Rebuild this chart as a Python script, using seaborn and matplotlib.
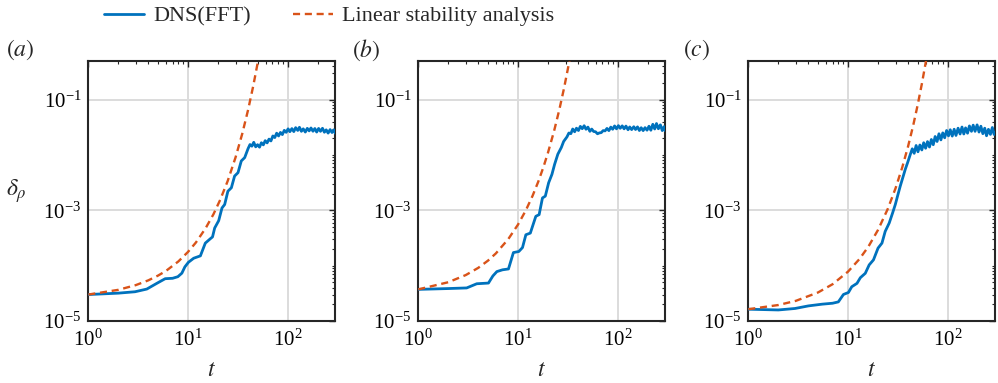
import matplotlib
matplotlib.use("Agg")
import matplotlib.pyplot as plt
import matplotlib.ticker as mticker
import numpy as np
import pandas as pd
import seaborn as sns

# ---- data ----
# panel (a)
t_dns_a = [1.0, 2.0, 2.94, 3.86, 4.86, 5.9, 7.0, 7.9, 8.67, 9.3, 10.1, 11.4, 13.3, 14.9,
           16.7, 17.6, 18.5, 20.3, 21.9, 23.3, 25.1, 27.2, 29.3, 31.7, 34.2, 37.0,
           40, 41.8, 43.7, 45.6, 47.7, 49.8, 52.1, 54.4, 56.9, 59.4, 62.1, 64.9, 67.8, 70.9,
           74.1, 77.4, 80.9, 84.5, 88.3, 92.3, 96.5, 100.8, 105, 110, 115, 120, 126, 131, 137,
           143, 150, 157, 164, 171, 179, 187, 195, 204, 213, 223, 233, 243, 254, 266, 278, 290, 300]
d_dns_a = [3.0e-5, 3.18e-5, 3.37e-5, 3.77e-5, 4.78e-5, 5.8e-5, 5.9e-5, 6.3e-5, 7.3e-5, 9.5e-5,
           1.15e-4, 1.36e-4, 1.5e-4, 2.55e-4, 3.05e-4, 3.3e-4, 4.78e-4, 6.49e-4, 1.10e-3, 1.27e-3,
           2.21e-3, 2.55e-3, 4.15e-3, 4.78e-3, 7.78e-3, 8.95e-3,
           1.3e-2, 1.54e-2, 1.44e-2, 1.69e-2, 1.40e-2, 1.53e-2, 1.38e-2, 1.66e-2, 1.52e-2, 1.81e-2,
           1.65e-2, 1.93e-2, 1.79e-2, 2.20e-2, 2.06e-2, 2.47e-2, 2.20e-2, 2.55e-2, 2.33e-2, 2.78e-2,
           2.56e-2, 2.96e-2, 2.63e-2, 2.99e-2, 2.64e-2, 3.11e-2, 2.77e-2, 3.16e-2, 2.67e-2, 2.96e-2,
           2.59e-2, 3.02e-2, 2.72e-2, 3.07e-2, 2.68e-2, 3.0e-2, 2.59e-2, 3.01e-2, 2.67e-2, 3.03e-2,
           2.57e-2, 2.84e-2, 2.48e-2, 2.87e-2, 2.54e-2, 2.84e-2, 2.46e-2]
t_lsa_a = [1, 2, 3, 4, 5, 6, 8, 10, 12, 15, 18, 21, 25, 30, 35, 40, 45, 50, 52]
d_lsa_a = [3.0e-5, 3.65e-5, 4.45e-5, 5.42e-5, 6.6e-5, 8.0e-5, 1.19e-4, 1.77e-4, 2.62e-4, 4.73e-4,
           8.5e-4, 1.54e-3, 3.39e-3, 9.1e-3, 2.43e-2, 6.5e-2, 0.174, 0.466, 0.69]

# panel (b)
t_dns_b = [1.0, 2.0, 3.06, 3.86, 5.06, 5.6, 6.14, 7.0, 8.03, 9.0, 10.2, 11.1, 12.0, 13.3, 15.1,
           16.3, 17.6, 18.8, 20.3, 21.9, 23.3, 25.1, 27.2, 28.7,
           31, 32.4, 33.9, 35.4, 37, 38.6, 40.4, 42.2, 44.1, 46.1, 48.1, 50.3, 52.6, 54.9, 57.4,
           60, 62.7, 65.5, 68.4, 71.5, 74.7, 78.1, 81.6, 85.3, 89.1, 93.1, 97.3, 101.7, 106, 111,
           116, 121, 127, 132, 138, 145, 151, 158, 165, 172, 180, 188, 197, 206, 215, 225, 235,
           245, 256, 268, 280, 292, 300]
d_dns_b = [3.72e-5, 3.85e-5, 3.95e-5, 4.7e-5, 4.84e-5, 6.5e-5, 7.8e-5, 8.4e-5, 8.7e-5, 1.72e-4,
           1.80e-4, 2.12e-4, 3.61e-4, 3.87e-4, 7.78e-4, 8.34e-4, 1.67e-3, 1.80e-3, 3.14e-3, 4.45e-3,
           6.76e-3, 1.03e-2, 1.36e-2, 1.75e-2,
           2.12e-2, 2.49e-2, 2.42e-2, 2.94e-2, 2.62e-2, 3.04e-2, 2.76e-2, 3.28e-2, 2.98e-2, 3.37e-2,
           2.91e-2, 3.18e-2, 2.67e-2, 2.93e-2, 2.65e-2, 2.62e-2, 2.41e-2, 2.5e-2, 2.53e-2, 2.75e-2,
           2.72e-2, 3.01e-2, 2.75e-2, 3.18e-2, 2.91e-2, 3.34e-2, 2.96e-2, 3.38e-2, 3.03e-2, 3.35e-2,
           2.96e-2, 3.32e-2, 2.85e-2, 3.2e-2, 2.87e-2, 3.23e-2, 2.88e-2, 3.21e-2, 2.76e-2, 3.1e-2,
           2.75e-2, 3.11e-2, 2.8e-2, 3.3e-2, 2.79e-2, 3.58e-2, 2.94e-2, 3.69e-2, 2.97e-2, 3.5e-2,
           2.75e-2, 3.24e-2, 2.74e-2]
t_lsa_b = [1, 2, 3, 4, 5, 6, 8, 10, 12, 14, 16, 18, 20, 23, 26, 29, 32, 34]
d_lsa_b = [3.72e-5, 5.01e-5, 6.76e-5, 9.12e-5, 1.23e-4, 1.66e-4, 3.02e-4, 5.5e-4, 1.0e-3, 1.82e-3,
           3.31e-3, 6.03e-3, 1.10e-2, 2.69e-2, 6.61e-2, 0.162, 0.398, 0.72]

# panel (c)
t_dns_c = [1.0, 2.0, 2.94, 4.0, 5.5, 7.0, 8.0, 9.0, 10.1, 10.9, 12.3, 13.3, 14.9, 16.3, 18.0, 20.0,
           21.9, 23.6, 25.9, 28.0, 29.8, 31.7, 33.4, 35.4, 37.5, 39.6,
           42.2, 44.1, 46.1, 48.2, 50.3, 52.6, 55, 57.4, 60, 62.7, 65.6, 68.5, 71.6, 74.8, 78.2,
           81.7, 85.4, 89.2, 93.2, 97.4, 101.8, 106, 111, 116, 121, 127, 133, 139, 145, 151, 158,
           165, 173, 180, 188, 197, 206, 215, 225, 235, 245, 256, 268, 280, 292, 300]
d_dns_c = [1.63e-5, 1.58e-5, 1.68e-5, 1.87e-5, 2.01e-5, 2.09e-5, 2.21e-5, 3.01e-5, 3.27e-5, 4.15e-5,
           4.78e-5, 6.05e-5, 7.26e-5, 1.03e-4, 1.27e-4, 2.07e-4, 2.55e-4, 4.15e-4, 5.89e-4, 8.95e-4,
           1.27e-3, 1.93e-3, 2.73e-3, 3.87e-3, 5.48e-3, 7.26e-3,
           1.03e-2, 1.29e-2, 1.07e-2, 1.48e-2, 1.14e-2, 1.51e-2, 1.23e-2, 1.66e-2, 1.32e-2, 1.74e-2,
           1.39e-2, 1.9e-2, 1.53e-2, 2.15e-2, 1.75e-2, 2.41e-2, 1.87e-2, 2.5e-2, 2.04e-2, 2.76e-2,
           2.21e-2, 2.85e-2, 2.19e-2, 2.91e-2, 2.25e-2, 3.04e-2, 2.39e-2, 3.19e-2, 2.39e-2, 3.08e-2,
           2.47e-2, 3.34e-2, 2.67e-2, 3.45e-2, 2.67e-2, 3.49e-2, 2.59e-2, 3.3e-2, 2.42e-2, 3.04e-2,
           2.22e-2, 2.9e-2, 2.35e-2, 3.13e-2, 2.34e-2, 2.56e-2]
t_lsa_c = [1, 2, 3, 5, 7, 10, 13, 16, 20, 25, 30, 35, 40, 45, 50, 55, 60, 63]
d_lsa_c = [1.63e-5, 1.94e-5, 2.31e-5, 3.27e-5, 4.61e-5, 7.78e-5, 1.31e-4, 2.2e-4, 4.42e-4, 1.05e-3,
           2.51e-3, 5.97e-3, 1.42e-2, 3.38e-2, 8.05e-2, 0.192, 0.457, 0.77]

panels = [
    ("a", t_dns_a, d_dns_a, t_lsa_a, d_lsa_a),
    ("b", t_dns_b, d_dns_b, t_lsa_b, d_lsa_b),
    ("c", t_dns_c, d_dns_c, t_lsa_c, d_lsa_c),
]

# ---- style ----
sns.set_theme(style="white")
plt.rcParams["font.family"] = ["Liberation Serif", "DejaVu Serif"]
plt.rcParams["mathtext.fontset"] = "stix"

blue = "#0072BD"
orange = "#D95319"

fig = plt.figure(figsize=(9.98, 3.83), dpi=100)
lefts = [0.0885, 0.4191, 0.7498]
tag_x = [-0.277, -0.21, -0.21]

for i, (tag, t_dns, d_dns, t_lsa, d_lsa) in enumerate(panels):
    ax = fig.add_axes([lefts[i], 0.162, 0.2475, 0.679])
    dns = pd.DataFrame({"t": t_dns, "delta": d_dns})
    lsa = pd.DataFrame({"t": t_lsa, "delta": d_lsa})
    sns.lineplot(data=dns, x="t", y="delta", ax=ax, color=blue, lw=2.0,
                 estimator=None, sort=False, label="DNS(FFT)", zorder=3)
    sns.lineplot(data=lsa, x="t", y="delta", ax=ax, color=orange, lw=1.7,
                 linestyle=(0, (3, 2)), estimator=None, sort=False,
                 label="Linear stability analysis", zorder=4)
    if ax.get_legend() is not None:
        ax.get_legend().remove()

    ax.set(xscale="log", yscale="log")
    ax.set_xlim(1, 300)
    ax.set_ylim(1e-5, 0.5)

    ax.xaxis.set_major_locator(mticker.LogLocator(base=10, numticks=10))
    ax.xaxis.set_minor_locator(mticker.LogLocator(base=10, subs=np.arange(2, 10), numticks=20))
    ax.yaxis.set_major_locator(mticker.FixedLocator([1e-5, 1e-3, 1e-1]))
    ax.yaxis.set_minor_locator(mticker.LogLocator(base=10, subs=np.arange(1, 10), numticks=20))
    ax.xaxis.set_minor_formatter(mticker.NullFormatter())
    ax.yaxis.set_minor_formatter(mticker.NullFormatter())

    ax.grid(True, which="major", color="#dcdcdc", lw=1.4)
    ax.set_axisbelow(True)
    ax.tick_params(which="both", direction="in", top=True, right=True,
                   color="#262626", labelsize=15, labelcolor="black")
    ax.tick_params(which="major", length=4, width=1.0)
    ax.tick_params(which="minor", length=2.5, width=0.8)
    ax.tick_params(axis="x", pad=6)
    ax.tick_params(axis="y", pad=5)
    for sp in ax.spines.values():
        sp.set_color("#262626")
        sp.set_linewidth(1.5)

    ax.set_xlabel(r"$t$", fontsize=17)
    ax.xaxis.set_label_coords(0.5, -0.19)
    ax.xaxis.label.set_va("center")
    if i == 0:
        ax.set_ylabel(r"$\delta_\rho$", fontsize=17, rotation=0)
        ax.yaxis.set_label_coords(-0.29, 0.5)
        ax.yaxis.label.set_va("center")
        handles, labels = ax.get_legend_handles_labels()
    else:
        ax.set_ylabel("")

    ax.text(tag_x[i], 1.042, "$(" + tag + ")$", transform=ax.transAxes,
            fontsize=17, ha="center", va="center")

fig.legend(handles, labels, loc="center", bbox_to_anchor=(0.33, 0.958), ncol=2,
           frameon=False, fontsize=16, handlelength=1.8, handletextpad=0.4,
           columnspacing=1.9)

fig.savefig("out.png", dpi=100)
